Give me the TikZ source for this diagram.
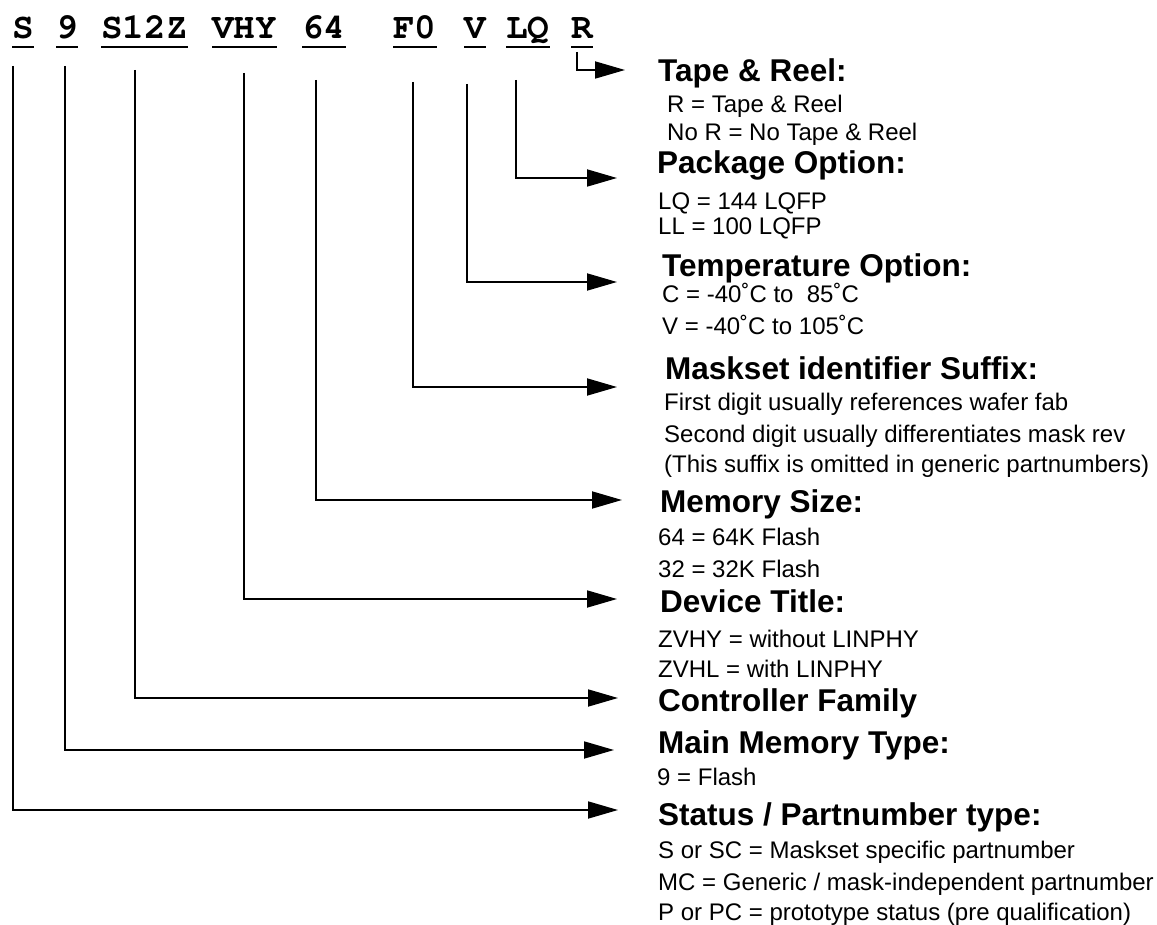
\documentclass[tikz,border=0pt]{standalone}
\usepackage{fontspec}
\setmainfont{Liberation Sans}
\newfontfamily\partfont{texgyrecursor}[Extension=.otf, UprightFont=*-regular, BoldFont=*-bold]
\usetikzlibrary{arrows.meta}
\tikzset{
  % Part number characters
  partcode/.style={anchor=base west, inner sep=0pt,
    font=\partfont\bfseries\fontsize{36}{40}\selectfont},
  % Field heading
  fieldhead/.style={anchor=base west, inner sep=0pt,
    font=\bfseries\fontsize{31.5}{36}\selectfont},
  % Option line
  fieldtext/.style={anchor=base west, inner sep=0pt,
    font=\fontsize{24}{28}\selectfont},
  % Underline and leader arrows
  uline/.style={line width=1.8pt},
  arr/.style={-{Triangle[length=30pt, width=17pt]}, line width=1.8pt},
}

\begin{document}
\begin{tikzpicture}[x=1pt, y=1pt]
  \useasboundingbox (0,0) rectangle (1157,-925);

  % part number
  \node[partcode] (cS)    at (12,-39)  {S};
  \node[partcode] (c9)    at (56,-39)  {9};
  \node[partcode] (cS12Z) at (101,-39) {S12Z};
  \node[partcode] (cVHY)  at (212,-39) {VHY};
  \node[partcode] (c64)   at (302,-39) {64};
  \node[partcode] (cF0)   at (393,-39) {F0};
  \node[partcode] (cV)    at (464,-39) {V};
  \node[partcode] (cLQ)   at (506,-39) {LQ};
  \node[partcode] (cR)    at (571,-39) {R};
  \foreach \n in {cS, c9, cS12Z, cVHY, c64, cF0, cV, cLQ, cR}
    \draw[uline] ([yshift=-8pt]\n.base west) -- ([yshift=-8pt]\n.base east);

  % fields
  \node[fieldhead] (hTape) at (658,-82)  {Tape \& Reel:};
  \node[fieldtext] (tTape1) at (667,-113) {R = Tape \& Reel};
  \node[fieldtext] (tTape2) at (667,-141) {No R = No Tape \& Reel};

  \node[fieldhead] (hPkg) at (657,-174) {Package Option:};
  \node[fieldtext] (tPkg1) at (658,-210) {LQ = 144 LQFP};
  \node[fieldtext] (tPkg2) at (658,-235) {LL = 100 LQFP};

  \node[fieldhead] (hTemp) at (662,-277) {Temperature Option:};
  \node[fieldtext] (tTemp1) at (662,-303) {C = -40˚C to\ \ 85˚C};
  \node[fieldtext] (tTemp2) at (662,-335) {V = -40˚C to 105˚C};

  \node[fieldhead] (hMask) at (665,-380) {Maskset identifier Suffix:};
  \node[fieldtext] (tMask1) at (664,-410) {First digit usually references wafer fab};
  \node[fieldtext] (tMask2) at (664,-442) {Second digit usually differentiates mask rev};
  \node[fieldtext] (tMask3) at (664,-472) {(This suffix is omitted in generic partnumbers)};

  \node[fieldhead] (hMem) at (660,-512) {Memory Size:};
  \node[fieldtext] (tMem1) at (658,-545) {64 = 64K Flash};
  \node[fieldtext] (tMem2) at (658,-577) {32 = 32K Flash};

  \node[fieldhead] (hDev) at (660,-612) {Device Title:};
  \node[fieldtext] (tDev1) at (658,-647) {ZVHY = without LINPHY};
  \node[fieldtext] (tDev2) at (658,-677) {ZVHL = with LINPHY};

  \node[fieldhead] (hCtrl) at (658,-711) {Controller Family};

  \node[fieldhead] (hMain) at (658,-753) {Main Memory Type:};
  \node[fieldtext] (tMain1) at (657,-785) {9 = Flash};

  \node[fieldhead] (hStat) at (658,-825) {Status / Partnumber type:};
  \node[fieldtext] (tStat1) at (658,-858) {S or SC = Maskset specific partnumber};
  \node[fieldtext] (tStat2) at (658,-890) {MC = Generic / mask-independent partnumber};
  \node[fieldtext] (tStat3) at (658,-920) {P or PC = prototype status (pre qualification)};

  % leader start and end points
  \coordinate (sS)    at (13,-66);
  \coordinate (s9)    at (65,-66);
  \coordinate (sS12Z) at (135,-70);
  \coordinate (sVHY)  at (244,-73);
  \coordinate (s64)   at (316,-80);
  \coordinate (sF0)   at (413,-82);
  \coordinate (sV)    at (467,-84);
  \coordinate (sLQ)   at (516,-80);
  \coordinate (sR)    at (577,-52);
  \coordinate (eStat) at (618,-810);
  \coordinate (eMain) at (614,-750);
  \coordinate (eCtrl) at (618,-698);
  \coordinate (eDev)  at (617,-599);
  \coordinate (eMem)  at (622,-500);
  \coordinate (eMask) at (617,-387);
  \coordinate (eTemp) at (617,-282);
  \coordinate (ePkg)  at (617,-178);
  \coordinate (eTape) at (625,-70);

  \draw[arr] (sS)    |- (eStat);
  \draw[arr] (s9)    |- (eMain);
  \draw[arr] (sS12Z) |- (eCtrl);
  \draw[arr] (sVHY)  |- (eDev);
  \draw[arr] (s64)   |- (eMem);
  \draw[arr] (sF0)   |- (eMask);
  \draw[arr] (sV)    |- (eTemp);
  \draw[arr] (sLQ)   |- (ePkg);
  \draw[arr] (sR)    |- (eTape);
\end{tikzpicture}
\end{document}
